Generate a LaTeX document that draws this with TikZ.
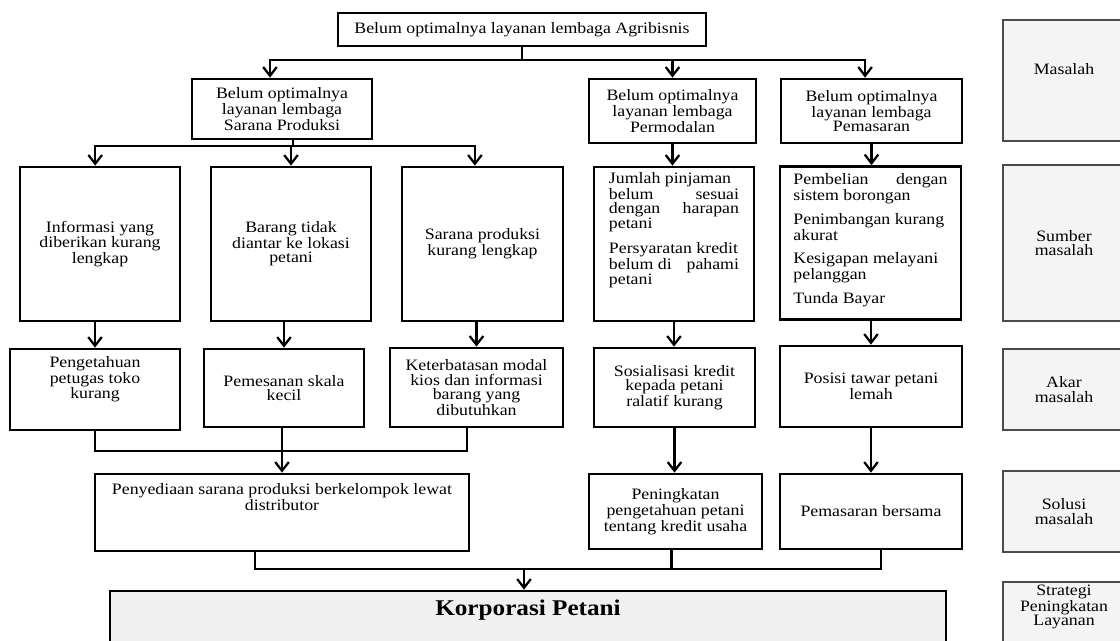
\documentclass[tikz,border=0pt]{standalone}
\usepackage{fontspec}
\setmainfont{Liberation Serif}[FakeStretch=1.12]
\usetikzlibrary{arrows.meta,positioning}
\newcommand{\txtsize}{\fontsize{11.3}{10.2}\selectfont}

\begin{document}
\begin{tikzpicture}[
    x=0.025cm, y=-0.025cm,
    box/.style={rectangle, draw, line width=1.9pt, align=center, inner sep=2pt, font=\txtsize},
    side/.style={rectangle, draw=gray!60!black, line width=1pt, fill=gray!9, align=center, inner sep=2pt, minimum width=3.05cm, font=\txtsize},
    line/.style={line width=1.6pt},
    arrow/.style={->, >={Straight Barb[length=2.2mm,width=3.4mm]}, line width=1.6pt}
]
    \useasboundingbox (0,0) rectangle (1120,640);
    \clip (0,0) rectangle (1120,640);

    \node[box, minimum width=9.2cm, minimum height=0.825cm] (top) at (522,29.5) {Belum optimalnya layanan lembaga Agribisnis};

    \node[box, minimum width=4.5cm, minimum height=1.5cm] (sp) at (282,109) {Belum optimalnya\\layanan lembaga\\Sarana Produksi};
    \node[box, minimum width=4.175cm, minimum height=1.6cm] (pm) at (672.5,111) {Belum optimalnya\\layanan lembaga\\Permodalan};
    \node[box, minimum width=4.525cm, minimum height=1.6cm] (ps) at (871.5,111) {Belum optimalnya\\layanan lembaga\\Pemasaran};

    \node[box, minimum width=4.0cm, minimum height=3.85cm] (s1) at (100,244) {Informasi yang\\diberikan kurang\\lengkap};
    \node[box, minimum width=4.0cm, minimum height=3.85cm] (s2) at (291,244) {Barang tidak\\diantar ke lokasi\\petani};
    \node[box, minimum width=4.025cm, minimum height=3.85cm] (s3) at (482.5,244) {Sarana produksi\\kurang lengkap};
    \node[box, minimum width=4.0cm, minimum height=3.85cm] (s4) at (674,244) {\parbox[c][3.7cm][t]{3.25cm}{\vspace*{2pt}Jumlah pinjaman\\belum\hfill sesuai\\dengan\hfill harapan\\petani\par\vspace{7pt}\mbox{Persyaratan kredit}\\belum di\hfill pahami\\petani}};
    \node[box, minimum width=4.525cm, minimum height=3.825cm] (s5) at (870.5,243) {\parbox[c][3.68cm][t]{3.85cm}{\vspace*{3pt}Pembelian\hfill dengan\\sistem borongan\par\vspace{6pt}\mbox{Penimbangan kurang}\\akurat\par\vspace{6pt}\mbox{Kesigapan melayani}\\pelanggan\par\vspace{6pt}Tunda Bayar}};

    \node[box, minimum width=4.25cm, minimum height=2.025cm] (a1) at (95,389.5) {\parbox[c][1.88cm][t]{4cm}{\centering\vspace*{3pt}Pengetahuan\\petugas toko\\kurang}};
    \node[box, minimum width=4.0cm, minimum height=1.95cm] (a2) at (284,388) {Pemesanan skala\\kecil};
    \node[box, minimum width=4.325cm, minimum height=1.975cm] (a3) at (476.5,387.5) {Keterbatasan modal\\kios dan informasi\\barang yang\\dibutuhkan};
    \node[box, minimum width=4.025cm, minimum height=1.975cm] (a4) at (674.5,387.5) {Sosialisasi kredit\\kepada petani\\ralatif kurang};
    \node[box, minimum width=4.55cm, minimum height=2.025cm] (a5) at (871,386.5) {Posisi tawar petani\\lemah};

    \node[box, minimum width=9.35cm, minimum height=1.925cm] (p1) at (282,512.5) {\parbox[c][1.78cm][t]{9cm}{\centering\vspace*{5pt}Penyediaan sarana produksi berkelompok lewat\\distributor}};
    \node[box, minimum width=4.325cm, minimum height=1.875cm] (p2) at (675.5,511.5) {Peningkatan\\pengetahuan petani\\tentang kredit usaha};
    \node[box, minimum width=4.55cm, minimum height=1.875cm] (p3) at (871,511.5) {Pemasaran bersama};

    \node[box, fill=gray!12, minimum width=20.9cm, minimum height=1.725cm] (kor) at (528,625.5) {\parbox[c][1.58cm][t]{20cm}{\centering\vspace*{4pt}\fontsize{16}{18}\selectfont\bfseries Korporasi Petani}};

    \node[side, minimum height=3.025cm] (r1) at (1064,80.5) {Masalah\\[6pt]};
    \node[side, minimum height=3.9cm] (r2) at (1064,243) {Sumber\\masalah};
    \node[side, minimum height=2.025cm] (r3) at (1064,389.5) {Akar\\masalah};
    \node[side, minimum height=2.025cm] (r4) at (1064,511.5) {Solusi\\masalah};
    \node[side, minimum height=1.7cm] (r5) at (1064,616) {\parbox[c][1.55cm][t]{2.9cm}{\centering Strategi\\Peningkatan\\Layanan}};

    \draw[line] (top.south) -- ++(0,13) coordinate (jtop);
    \draw[arrow] (jtop) -| ([xshift=-0.3cm]sp.north);
    \draw[arrow] (jtop) -| (pm.north);
    \draw[arrow] (jtop) -| ([xshift=-0.16cm]ps.north);

    \draw[line] ([xshift=0.275cm]sp.south) -- ++(0,6) coordinate (jsp);
    \draw[arrow] (jsp) -| ([xshift=-0.12cm]s1.north);
    \draw[arrow] (jsp) -| (s2.north);
    \draw[arrow] (jsp) -| ([xshift=-0.19cm]s3.north);
    \draw[arrow] (pm.south) -- (pm.south |- s4.north);
    \draw[arrow] (ps.south) -- (ps.south |- s5.north);

    \draw[arrow] (s1.south -| a1.north) -- (a1.north);
    \draw[arrow] (s2.south -| a2.north) -- (a2.north);
    \draw[arrow] (s3.south -| a3.north) -- (a3.north);
    \draw[arrow] (s4.south) -- (s4.south |- a4.north);
    \draw[arrow] (s5.south -| a5.north) -- (a5.north);

    \coordinate (jak) at (282,451);
    \coordinate (a3s) at ([xshift=-0.24cm]a3.south);
    \draw[line] (a1.south) |- (a3s |- jak) -- (a3s);
    \draw[arrow] (a2.south -| jak) -- (p1.north);
    \draw[arrow] (a4.south) -- (a4.south |- p2.north);
    \draw[arrow] (a5.south) -- (a5.south |- p3.north);

    \coordinate (jbot) at (524,569);
    \coordinate (b1) at ([xshift=-0.675cm]p1.south);
    \coordinate (b2) at ([xshift=-0.1cm]p2.south);
    \coordinate (b3) at ([xshift=0.25cm]p3.south);
    \draw[line] (b1) |- (b3 |- jbot) -- (b3);
    \draw[line] (b2) -- (b2 |- jbot);
    \draw[arrow] (jbot) -- (jbot |- kor.north);
\end{tikzpicture}
\end{document}
